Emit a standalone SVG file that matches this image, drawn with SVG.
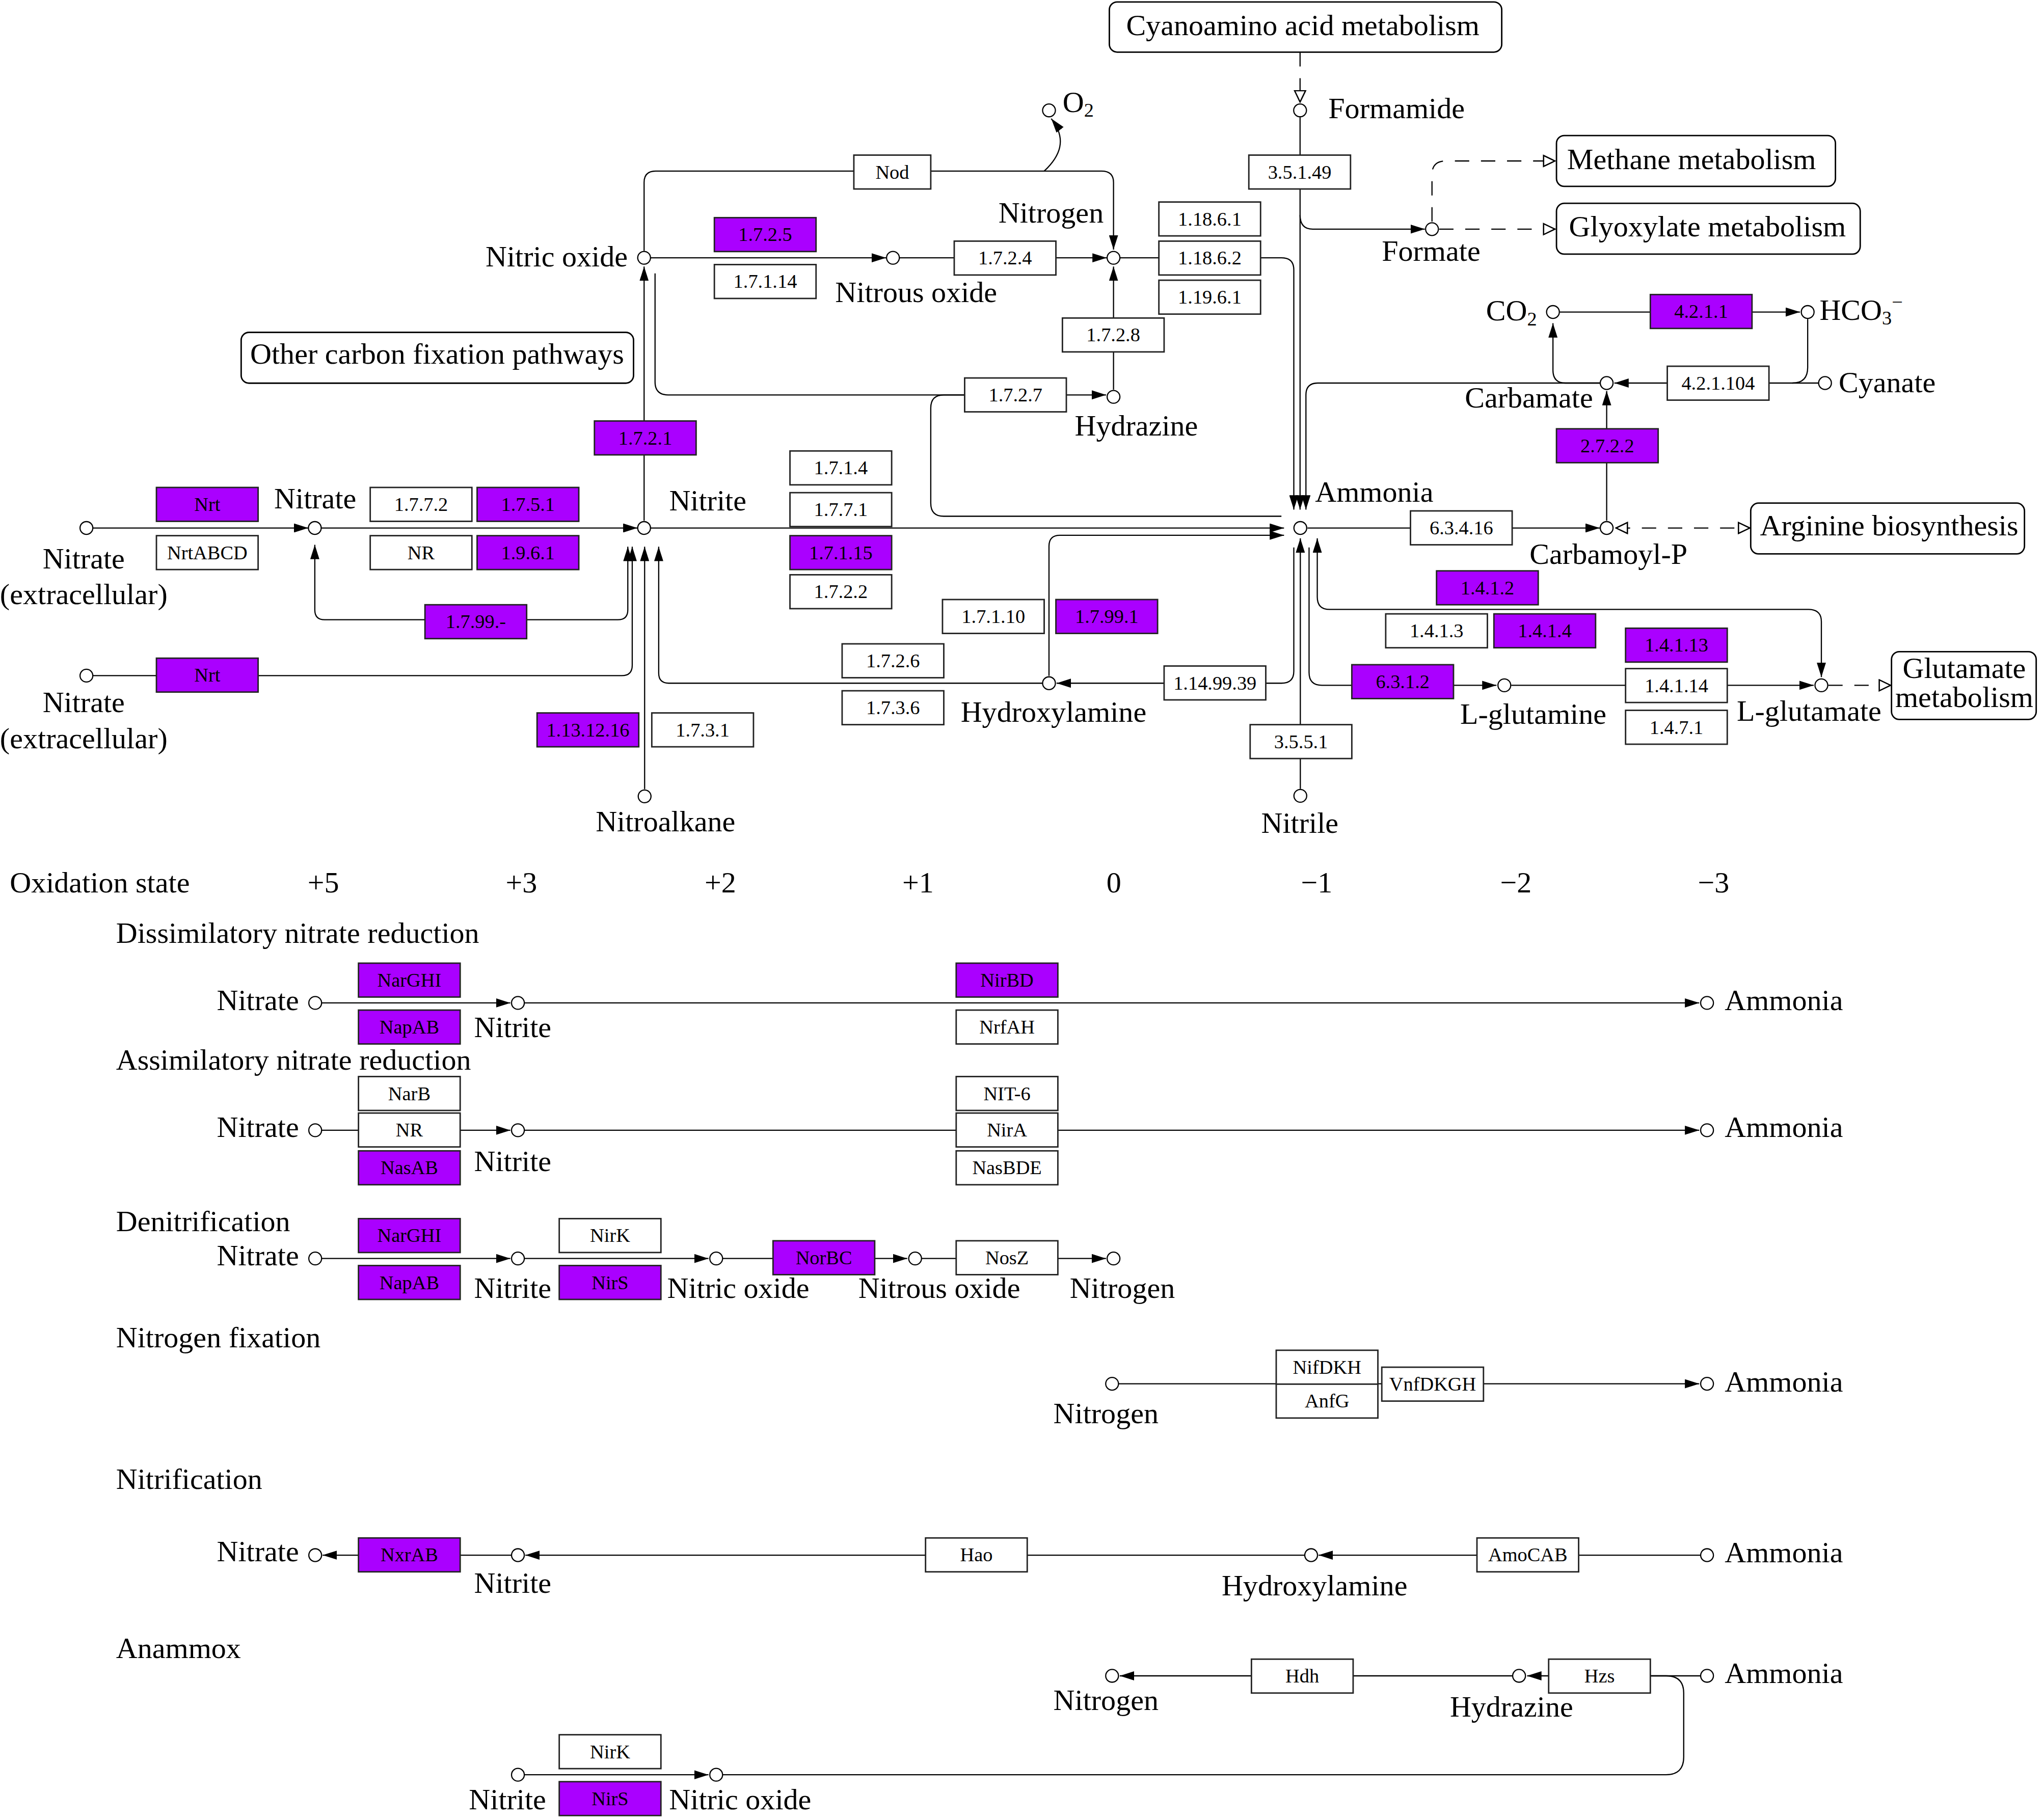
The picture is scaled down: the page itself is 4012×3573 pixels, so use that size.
<svg xmlns="http://www.w3.org/2000/svg" width="4012" height="3573" viewBox="0 0 4012 3573">
<style>
text{font-family:"Liberation Serif","Times New Roman",serif;fill:#000}
.t{font-size:22.7px}
.m{text-anchor:middle}
.e{text-anchor:end}
.ez{font-size:15px;text-anchor:middle}
.b{fill:#fff;stroke:#222;stroke-width:1.1}
.p{fill:#aa00ff}
.c{fill:#fff;stroke:#000;stroke-width:0.9}
.l{fill:none;stroke:#000;stroke-width:0.9}
.d{stroke-dasharray:11 9}
.mb{fill:#fff;stroke:#000;stroke-width:1.1}
.a{marker-end:url(#ah)}
.aa{marker-start:url(#ah);marker-end:url(#ah)}
.o{marker-end:url(#oh)}
.oo{marker-start:url(#oh);marker-end:url(#oh)}
</style>
<defs>
<marker id="ah" viewBox="0 0 11 7" refX="11" refY="3.5" markerWidth="11" markerHeight="7" markerUnits="userSpaceOnUse" orient="auto-start-reverse"><path d="M0,0 L11,3.5 L0,7 z" fill="#000"/></marker>
<marker id="oh" viewBox="0 0 10 10" refX="9.5" refY="5" markerWidth="10" markerHeight="10" markerUnits="userSpaceOnUse" orient="auto-start-reverse"><path d="M0.6,0.8 L9.3,5 L0.6,9.2 z" fill="#fff" stroke="#000" stroke-width="1"/></marker>
</defs>
<rect width="4012" height="3573" fill="#fff"/>
<g transform="scale(2.5587)">
<g id="connectors">
<path class="l a" d="M71.3,405.1 H236.5"/>
<path class="l a" d="M246.5,405.1 H489"/>
<path class="l a" d="M499.1,405.1 H985"/>
<path class="l a" d="M804.7,518.5 V419 Q804.7,410.7 813,410.7 H985"/>
<path class="l aa" d="M481.6,419.5 V468 Q481.6,475.5 474,475.5 H249 Q241.5,475.5 241.5,468 V418"/>
<path class="l a" d="M71.3,518.4 H477 Q485,518.4 485,510.4 V419.5"/>
<path class="l a" d="M494.5,605.5 V419.5"/>
<path class="l a" d="M799.7,524.2 H513 Q505.3,524.2 505.3,516.5 V419.5"/>
<path class="l a" d="M494.1,399.5 V204.5"/>
<path class="l a" d="M499.1,197.8 H679.7"/>
<path class="l a" d="M690,197.8 H849"/>
<path class="l a" d="M494.1,192.5 V140 Q494.1,131.3 503,131.3 H845 Q854.2,131.3 854.2,140 V191.5"/>
<path class="l a" d="M801,131.3 C813,120 819,107 806.4,91"/>
<path class="l a" d="M854.2,299 V204.5"/>
<path class="l a" d="M859.2,197.8 H983 Q992.5,197.8 992.5,207 V391"/>
<path class="l a" d="M997.3,90 V391"/>
<path class="l a" d="M997.3,165 Q997.3,175.8 1007,175.8 H1093"/>
<path class="l a" d="M1227.5,293.9 H1011 Q1001.8,293.9 1001.8,303 V391"/>
<path class="l a" d="M1003,405.1 H1227.2"/>
<path class="l a" d="M1232.5,399.5 V300"/>
<path class="l a" d="M1395,293.9 H1238.4"/>
<path class="l" d="M1386.7,244.8 V282 Q1386.7,293.9 1375,293.9"/>
<path class="l a" d="M1227.5,293.9 H1201 Q1191.3,293.9 1191.3,284 V248"/>
<path class="l a" d="M1196.6,239.4 H1380.8"/>
<path class="l d o" d="M997.3,40 V78.5"/>
<path class="l d o" d="M1098.5,170 V134 Q1098.5,123.5 1109,123.5 H1193"/>
<path class="l d o" d="M1104,175.8 H1193"/>
<path class="l d oo" d="M1239.5,405.1 H1342.5"/>
<path class="l d o" d="M1402.5,525.8 H1450.5"/>
<path class="l aa" d="M1010.5,413 V458 Q1010.5,467.6 1020,467.6 H1387.5 Q1397.2,467.6 1397.2,477 V519.5"/>
<path class="l a" d="M1004.2,420 V516 Q1004.2,525.8 1014,525.8 H1148"/>
<path class="l a" d="M1159.3,525.8 H1391.3"/>
<path class="l a" d="M992.5,420 V515 Q992.5,524.2 983,524.2 H810.5"/>
<path class="l a" d="M997.5,605.3 V413"/>
<path class="l a" d="M502.5,209.8 V293 Q502.5,303 512.5,303 H848.5"/>
<path class="l" d="M740,303 H724 Q714,303 714,313 V386 Q714,396.1 724,396.1 H983"/>
<path class="l a" d="M246.8,769.5 H391.5"/>
<path class="l a" d="M402.3,769.5 H1303.5"/>
<path class="l a" d="M246.8,867.2 H391.5"/>
<path class="l a" d="M402.3,867.2 H1303.5"/>
<path class="l a" d="M246.8,965.6 H391.5"/>
<path class="l a" d="M402.3,965.6 H543.5"/>
<path class="l a" d="M554.4,965.6 H696"/>
<path class="l a" d="M707,965.6 H848.5"/>
<path class="l a" d="M858.1,1061.7 H1303.5"/>
<path class="l a" d="M392.3,1193.2 H247.5"/>
<path class="l a" d="M1000.8,1193.2 H403"/>
<path class="l a" d="M1304.5,1193.2 H1011.5"/>
<path class="l a" d="M1304.5,1285.8 H1171.5"/>
<path class="l a" d="M1160.3,1285.8 H859"/>
<path class="l" d="M1266,1285.8 H1278 Q1291.6,1285.8 1291.6,1299 V1348 Q1291.6,1361.7 1278,1361.7 H554.4"/>
<path class="l a" d="M402.3,1361.7 H543.5"/>
</g>

<g id="map-cyanoamino"><rect class="mb" x="851" y="1.5" width="301" height="38.5" rx="6"/><text class="t m" x="999.4" y="27.1">Cyanoamino acid metabolism</text></g>
<g id="map-methane"><rect class="mb" x="1194" y="104" width="214" height="39" rx="6"/><text class="t m" x="1297.6" y="129.7">Methane metabolism</text></g>
<g id="map-glyoxylate"><rect class="mb" x="1194" y="156" width="233" height="39" rx="6"/><text class="t m" x="1309.8" y="181.2">Glyoxylate metabolism</text></g>
<g id="map-carbonfix"><rect class="mb" x="185" y="255" width="301" height="39" rx="6"/><text class="t m" x="335.3" y="279.2">Other carbon fixation pathways</text></g>
<g id="map-arginine"><rect class="mb" x="1343" y="386" width="210" height="39" rx="6"/><text class="t m" x="1449.2" y="410.7">Arginine biosynthesis</text></g>
<g id="map-glutamate"><rect class="mb" x="1451" y="500" width="111" height="52" rx="6"/><text class="t m" x="1506.8" y="520.2">Glutamate</text><text class="t m" x="1506.8" y="542.6">metabolism</text></g>

<g id="e-nod"><rect class="b" x="655" y="119" width="59" height="26"/><text class="ez" x="684.5" y="137">Nod</text></g>
<g id="e-1-7-2-5"><rect class="b p" x="548" y="167" width="78" height="26"/><text class="ez" x="587" y="185">1.7.2.5</text></g>
<g id="e-1-7-1-14"><rect class="b" x="548" y="203" width="78" height="26"/><text class="ez" x="587" y="221">1.7.1.14</text></g>
<g id="e-1-7-2-4"><rect class="b" x="732" y="185" width="78" height="26"/><text class="ez" x="771" y="203">1.7.2.4</text></g>
<g id="e-1-18-6-1"><rect class="b" x="889" y="155" width="78" height="26"/><text class="ez" x="928" y="173">1.18.6.1</text></g>
<g id="e-1-18-6-2"><rect class="b" x="889" y="185" width="78" height="26"/><text class="ez" x="928" y="203">1.18.6.2</text></g>
<g id="e-1-19-6-1"><rect class="b" x="889" y="215" width="78" height="26"/><text class="ez" x="928" y="233">1.19.6.1</text></g>
<g id="e-1-7-2-8"><rect class="b" x="815" y="244" width="78" height="26"/><text class="ez" x="854" y="262">1.7.2.8</text></g>
<g id="e-1-7-2-7"><rect class="b" x="740" y="290" width="78" height="26"/><text class="ez" x="779" y="308">1.7.2.7</text></g>
<g id="e-3-5-1-49"><rect class="b" x="958" y="119" width="78" height="26"/><text class="ez" x="997" y="137">3.5.1.49</text></g>
<g id="e-4-2-1-1"><rect class="b p" x="1266" y="226" width="78" height="26"/><text class="ez" x="1305" y="244">4.2.1.1</text></g>
<g id="e-4-2-1-104"><rect class="b" x="1279" y="281" width="78" height="26"/><text class="ez" x="1318" y="299">4.2.1.104</text></g>
<g id="e-2-7-2-2"><rect class="b p" x="1194" y="329" width="78" height="26"/><text class="ez" x="1233" y="347">2.7.2.2</text></g>
<g id="e-6-3-4-16"><rect class="b" x="1082" y="392" width="78" height="26"/><text class="ez" x="1121" y="410">6.3.4.16</text></g>
<g id="e-1-4-1-2"><rect class="b p" x="1102" y="438" width="78" height="26"/><text class="ez" x="1141" y="456">1.4.1.2</text></g>
<g id="e-1-4-1-3"><rect class="b" x="1063" y="471" width="78" height="26"/><text class="ez" x="1102" y="489">1.4.1.3</text></g>
<g id="e-1-4-1-4"><rect class="b p" x="1146" y="471" width="78" height="26"/><text class="ez" x="1185" y="489">1.4.1.4</text></g>
<g id="e-1-4-1-13"><rect class="b p" x="1247" y="482" width="78" height="26"/><text class="ez" x="1286" y="500">1.4.1.13</text></g>
<g id="e-1-4-1-14"><rect class="b" x="1247" y="513" width="78" height="26"/><text class="ez" x="1286" y="531">1.4.1.14</text></g>
<g id="e-1-4-7-1"><rect class="b" x="1247" y="545" width="78" height="26"/><text class="ez" x="1286" y="563">1.4.7.1</text></g>
<g id="e-6-3-1-2"><rect class="b p" x="1037" y="510" width="78" height="26"/><text class="ez" x="1076" y="528">6.3.1.2</text></g>
<g id="e-3-5-5-1"><rect class="b" x="959" y="556" width="78" height="26"/><text class="ez" x="998" y="574">3.5.5.1</text></g>
<g id="e-1-14-99-39"><rect class="b" x="893" y="511" width="78" height="26"/><text class="ez" x="932" y="529">1.14.99.39</text></g>
<g id="e-1-7-1-10"><rect class="b" x="723" y="460" width="78" height="26"/><text class="ez" x="762" y="478">1.7.1.10</text></g>
<g id="e-1-7-99-1"><rect class="b p" x="810" y="460" width="78" height="26"/><text class="ez" x="849" y="478">1.7.99.1</text></g>
<g id="e-1-7-2-6"><rect class="b" x="646" y="494" width="78" height="26"/><text class="ez" x="685" y="512">1.7.2.6</text></g>
<g id="e-1-7-3-6"><rect class="b" x="646" y="530" width="78" height="26"/><text class="ez" x="685" y="548">1.7.3.6</text></g>
<g id="e-1-7-1-4"><rect class="b" x="606" y="346" width="78" height="26"/><text class="ez" x="645" y="364">1.7.1.4</text></g>
<g id="e-1-7-7-1"><rect class="b" x="606" y="378" width="78" height="26"/><text class="ez" x="645" y="396">1.7.7.1</text></g>
<g id="e-1-7-1-15"><rect class="b p" x="606" y="411" width="78" height="26"/><text class="ez" x="645" y="429">1.7.1.15</text></g>
<g id="e-1-7-2-2"><rect class="b" x="606" y="441" width="78" height="26"/><text class="ez" x="645" y="459">1.7.2.2</text></g>
<g id="e-1-7-3-1"><rect class="b" x="500" y="547" width="78" height="26"/><text class="ez" x="539" y="565">1.7.3.1</text></g>
<g id="e-1-13-12-16"><rect class="b p" x="412" y="547" width="78" height="26"/><text class="ez" x="451" y="565">1.13.12.16</text></g>
<g id="e-1-7-2-1"><rect class="b p" x="456" y="323" width="78" height="26"/><text class="ez" x="495" y="341">1.7.2.1</text></g>
<g id="e-nrt-1"><rect class="b p" x="120" y="374" width="78" height="26"/><text class="ez" x="159" y="392">Nrt</text></g>
<g id="e-nrtabcd"><rect class="b" x="120" y="411" width="78" height="26"/><text class="ez" x="159" y="429">NrtABCD</text></g>
<g id="e-1-7-7-2"><rect class="b" x="284" y="374" width="78" height="26"/><text class="ez" x="323" y="392">1.7.7.2</text></g>
<g id="e-1-7-5-1"><rect class="b p" x="366" y="374" width="78" height="26"/><text class="ez" x="405" y="392">1.7.5.1</text></g>
<g id="e-nr-1"><rect class="b" x="284" y="411" width="78" height="26"/><text class="ez" x="323" y="429">NR</text></g>
<g id="e-1-9-6-1"><rect class="b p" x="366" y="411" width="78" height="26"/><text class="ez" x="405" y="429">1.9.6.1</text></g>
<g id="e-1-7-99-x"><rect class="b p" x="326" y="464" width="78" height="26"/><text class="ez" x="365" y="482">1.7.99.-</text></g>
<g id="e-nrt-2"><rect class="b p" x="120" y="505" width="78" height="26"/><text class="ez" x="159" y="523">Nrt</text></g>

<g id="c-nitrate-ext-1"><circle class="c" cx="66.3" cy="405.1" r="4.9"/><text class="t m" x="64.2" y="436">Nitrate</text><text class="t m" x="64.2" y="463.6">(extracellular)</text></g>
<g id="c-nitrate-ext-2"><circle class="c" cx="66.3" cy="518.4" r="4.9"/><text class="t m" x="64.2" y="546.4">Nitrate</text><text class="t m" x="64.2" y="574">(extracellular)</text></g>
<g id="c-nitrate"><circle class="c" cx="241.5" cy="405.1" r="4.9"/><text class="t m" x="241.8" y="390">Nitrate</text></g>
<g id="c-nitrite"><circle class="c" cx="494.1" cy="405.1" r="4.9"/><text class="t" x="513.3" y="391.6">Nitrite</text></g>
<g id="c-nitric-oxide"><circle class="c" cx="494.1" cy="197.8" r="4.9"/><text class="t e" x="481.5" y="204.5">Nitric oxide</text></g>
<g id="c-nitrous-oxide"><circle class="c" cx="685" cy="197.8" r="4.9"/><text class="t m" x="702.8" y="231.6">Nitrous oxide</text></g>
<g id="c-nitrogen"><circle class="c" cx="854.2" cy="197.8" r="4.9"/><text class="t e" x="846.6" y="170.6">Nitrogen</text></g>
<g id="c-hydrazine"><circle class="c" cx="854.2" cy="304.5" r="4.9"/><text class="t m" x="871.7" y="334">Hydrazine</text></g>
<g id="c-o2"><circle class="c" cx="804.7" cy="84.7" r="4.9"/><text class="t" x="815.2" y="85.8">O<tspan font-size="15" dy="3.6">2</tspan></text></g>
<g id="c-formamide"><circle class="c" cx="997.3" cy="84.7" r="4.9"/><text class="t" x="1019" y="90.7">Formamide</text></g>
<g id="c-formate"><circle class="c" cx="1098.5" cy="175.8" r="4.9"/><text class="t m" x="1097.8" y="200.2">Formate</text></g>
<g id="c-ammonia"><circle class="c" cx="997.5" cy="405.1" r="4.9"/><text class="t" x="1008.8" y="384.9">Ammonia</text></g>
<g id="c-co2"><circle class="c" cx="1191.3" cy="239.4" r="4.9"/><text class="t e" x="1179" y="245.8">CO<tspan font-size="15" dy="3.8">2</tspan></text></g>
<g id="c-hco3"><circle class="c" cx="1386.7" cy="239.4" r="4.9"/><text class="t" x="1395.8" y="245.4">HCO<tspan font-size="15" dy="3.6">3</tspan><tspan font-size="15" dy="-12">−</tspan></text></g>
<g id="c-cyanate"><circle class="c" cx="1400" cy="293.9" r="4.9"/><text class="t" x="1410.5" y="300.9">Cyanate</text></g>
<g id="c-carbamate"><circle class="c" cx="1232.5" cy="293.9" r="4.9"/><text class="t e" x="1222" y="312.5">Carbamate</text></g>
<g id="c-carbamoyl-p"><circle class="c" cx="1232.5" cy="405.1" r="4.9"/><text class="t m" x="1233.9" y="432.7">Carbamoyl-P</text></g>
<g id="c-hydroxylamine"><circle class="c" cx="804.7" cy="524.2" r="4.9"/><text class="t m" x="808.2" y="553.8">Hydroxylamine</text></g>
<g id="c-l-glutamine"><circle class="c" cx="1154" cy="525.8" r="4.9"/><text class="t m" x="1176.2" y="555.4">L-glutamine</text></g>
<g id="c-l-glutamate"><circle class="c" cx="1397.2" cy="525.8" r="4.9"/><text class="t m" x="1387.8" y="553.2">L-glutamate</text></g>
<g id="c-nitrile"><circle class="c" cx="997.5" cy="610.6" r="4.9"/><text class="t m" x="997.1" y="639.1">Nitrile</text></g>
<g id="c-nitroalkane"><circle class="c" cx="494.5" cy="611" r="4.9"/><text class="t m" x="510.5" y="638">Nitroalkane</text></g>

<g id="oxidation-state">
<text class="t" x="7.5" y="684.8">Oxidation state</text>
<text class="t m" x="248" y="684.8">+5</text>
<text class="t m" x="400" y="684.8">+3</text>
<text class="t m" x="552.6" y="684.8">+2</text>
<text class="t m" x="704.2" y="684.8">+1</text>
<text class="t m" x="854.4" y="684.8">0</text>
<text class="t m" x="1010" y="684.8">−1</text>
<text class="t m" x="1162.9" y="684.8">−2</text>
<text class="t m" x="1314.5" y="684.8">−3</text>
</g>

<g id="module-titles">
<text class="t" x="89" y="723.4">Dissimilatory nitrate reduction</text>
<text class="t" x="89" y="820.8">Assimilatory nitrate reduction</text>
<text class="t" x="89" y="944.7">Denitrification</text>
<text class="t" x="89" y="1033.6">Nitrogen fixation</text>
<text class="t" x="89" y="1142.3">Nitrification</text>
<text class="t" x="89" y="1272">Anammox</text>
</g>

<g id="e-d-narghi"><rect class="b p" x="275" y="739" width="78" height="26"/><text class="ez" x="314" y="757">NarGHI</text></g>
<g id="e-d-napab"><rect class="b p" x="275" y="775" width="78" height="26"/><text class="ez" x="314" y="793">NapAB</text></g>
<g id="e-d-nirbd"><rect class="b p" x="733.5" y="739" width="78" height="26"/><text class="ez" x="772.5" y="757">NirBD</text></g>
<g id="e-d-nrfah"><rect class="b" x="733.5" y="775" width="78" height="26"/><text class="ez" x="772.5" y="793">NrfAH</text></g>
<g id="e-a-narb"><rect class="b" x="275" y="826" width="78" height="26"/><text class="ez" x="314" y="844">NarB</text></g>
<g id="e-a-nr"><rect class="b" x="275" y="854" width="78" height="26"/><text class="ez" x="314" y="872">NR</text></g>
<g id="e-a-nasab"><rect class="b p" x="275" y="883" width="78" height="26"/><text class="ez" x="314" y="901">NasAB</text></g>
<g id="e-a-nit6"><rect class="b" x="733.5" y="826" width="78" height="26"/><text class="ez" x="772.5" y="844">NIT-6</text></g>
<g id="e-a-nira"><rect class="b" x="733.5" y="854" width="78" height="26"/><text class="ez" x="772.5" y="872">NirA</text></g>
<g id="e-a-nasbde"><rect class="b" x="733.5" y="883" width="78" height="26"/><text class="ez" x="772.5" y="901">NasBDE</text></g>
<g id="e-n-narghi"><rect class="b p" x="275" y="935" width="78" height="26"/><text class="ez" x="314" y="953">NarGHI</text></g>
<g id="e-n-napab"><rect class="b p" x="275" y="971" width="78" height="26"/><text class="ez" x="314" y="989">NapAB</text></g>
<g id="e-n-nirk"><rect class="b" x="429" y="935" width="78" height="26"/><text class="ez" x="468" y="953">NirK</text></g>
<g id="e-n-nirs"><rect class="b p" x="429" y="971" width="78" height="26"/><text class="ez" x="468" y="989">NirS</text></g>
<g id="e-n-norbc"><rect class="b p" x="593" y="952" width="78" height="26"/><text class="ez" x="632" y="970">NorBC</text></g>
<g id="e-n-nosz"><rect class="b" x="733.5" y="952" width="78" height="26"/><text class="ez" x="772.5" y="970">NosZ</text></g>
<g id="e-f-nifdkh"><rect class="b" x="979" y="1036" width="78" height="26"/><text class="ez" x="1018" y="1054">NifDKH</text></g>
<g id="e-f-anfg"><rect class="b" x="979" y="1062" width="78" height="26"/><text class="ez" x="1018" y="1080">AnfG</text></g>
<g id="e-f-vnfdkgh"><rect class="b" x="1060" y="1049" width="78" height="26"/><text class="ez" x="1099" y="1067">VnfDKGH</text></g>
<g id="e-t-nxrab"><rect class="b p" x="275" y="1180" width="78" height="26"/><text class="ez" x="314" y="1198">NxrAB</text></g>
<g id="e-t-hao"><rect class="b" x="710" y="1180" width="78" height="26"/><text class="ez" x="749" y="1198">Hao</text></g>
<g id="e-t-amocab"><rect class="b" x="1133" y="1180" width="78" height="26"/><text class="ez" x="1172" y="1198">AmoCAB</text></g>
<g id="e-x-hdh"><rect class="b" x="960" y="1273" width="78" height="26"/><text class="ez" x="999" y="1291">Hdh</text></g>
<g id="e-x-hzs"><rect class="b" x="1188" y="1273" width="78" height="26"/><text class="ez" x="1227" y="1291">Hzs</text></g>
<g id="e-x-nirk"><rect class="b" x="429" y="1331" width="78" height="26"/><text class="ez" x="468" y="1349">NirK</text></g>
<g id="e-x-nirs"><rect class="b p" x="429" y="1367" width="78" height="26"/><text class="ez" x="468" y="1385">NirS</text></g>

<g id="c-d-nitrate"><circle class="c" cx="241.8" cy="769.5" r="4.9"/><text class="t e" x="229.3" y="775">Nitrate</text></g>
<g id="c-d-nitrite"><circle class="c" cx="397.3" cy="769.5" r="4.9"/><text class="t m" x="393.3" y="795.7">Nitrite</text></g>
<g id="c-d-ammonia"><circle class="c" cx="1309.5" cy="769.5" r="4.9"/><text class="t" x="1323" y="775">Ammonia</text></g>
<g id="c-a-nitrate"><circle class="c" cx="241.8" cy="867.2" r="4.9"/><text class="t e" x="229.3" y="872.2">Nitrate</text></g>
<g id="c-a-nitrite"><circle class="c" cx="397.3" cy="867.2" r="4.9"/><text class="t m" x="393.3" y="898.6">Nitrite</text></g>
<g id="c-a-ammonia"><circle class="c" cx="1309.5" cy="867.2" r="4.9"/><text class="t" x="1323" y="872.2">Ammonia</text></g>
<g id="c-n-nitrate"><circle class="c" cx="241.8" cy="965.6" r="4.9"/><text class="t e" x="229.3" y="970.9">Nitrate</text></g>
<g id="c-n-nitrite"><circle class="c" cx="397.3" cy="965.6" r="4.9"/><text class="t m" x="393.3" y="995.8">Nitrite</text></g>
<g id="c-n-nitric-oxide"><circle class="c" cx="549.4" cy="965.6" r="4.9"/><text class="t m" x="566.3" y="995.8">Nitric oxide</text></g>
<g id="c-n-nitrous-oxide"><circle class="c" cx="702" cy="965.6" r="4.9"/><text class="t m" x="720.5" y="995.8">Nitrous oxide</text></g>
<g id="c-n-nitrogen"><circle class="c" cx="854.2" cy="965.6" r="4.9"/><text class="t m" x="861" y="995.8">Nitrogen</text></g>
<g id="c-f-nitrogen"><circle class="c" cx="853.1" cy="1061.7" r="4.9"/><text class="t m" x="848.4" y="1091.8">Nitrogen</text></g>
<g id="c-f-ammonia"><circle class="c" cx="1309.5" cy="1061.7" r="4.9"/><text class="t" x="1323" y="1067.6">Ammonia</text></g>
<g id="c-t-nitrate"><circle class="c" cx="241.8" cy="1193.2" r="4.9"/><text class="t e" x="229.3" y="1198">Nitrate</text></g>
<g id="c-t-nitrite"><circle class="c" cx="397.3" cy="1193.2" r="4.9"/><text class="t m" x="393.3" y="1222.3">Nitrite</text></g>
<g id="c-t-hydroxylamine"><circle class="c" cx="1005.8" cy="1193.2" r="4.9"/><text class="t m" x="1008.4" y="1224.2">Hydroxylamine</text></g>
<g id="c-t-ammonia"><circle class="c" cx="1309.5" cy="1193.2" r="4.9"/><text class="t" x="1323" y="1198.5">Ammonia</text></g>
<g id="c-x-nitrogen"><circle class="c" cx="853.1" cy="1285.8" r="4.9"/><text class="t m" x="848.4" y="1312">Nitrogen</text></g>
<g id="c-x-hydrazine"><circle class="c" cx="1165.3" cy="1285.8" r="4.9"/><text class="t m" x="1159.5" y="1316.9">Hydrazine</text></g>
<g id="c-x-ammonia"><circle class="c" cx="1309.5" cy="1285.8" r="4.9"/><text class="t" x="1323" y="1291.4">Ammonia</text></g>
<g id="c-x-nitrite"><circle class="c" cx="397.3" cy="1361.7" r="4.9"/><text class="t m" x="389.3" y="1388.4">Nitrite</text></g>
<g id="c-x-nitric-oxide"><circle class="c" cx="549.4" cy="1361.7" r="4.9"/><text class="t m" x="567.8" y="1388.4">Nitric oxide</text></g>
</g>
</svg>
